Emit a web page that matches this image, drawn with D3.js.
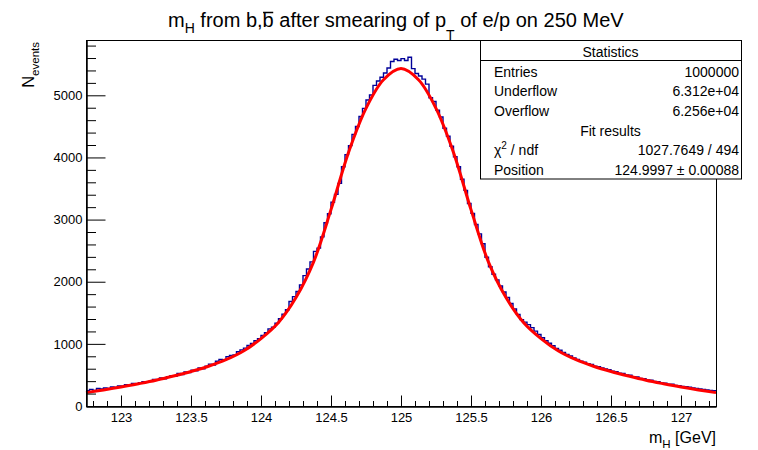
<!DOCTYPE html>
<html><head><meta charset="utf-8">
<script src="https://cdn.jsdelivr.net/npm/d3@7"></script>
<style>
body{margin:0;background:#fff}
svg{display:block;font-family:"Liberation Sans",Arial,Helvetica,sans-serif}
</style>
</head><body>
<svg id="c" width="758" height="450"></svg>
<script>
// ---------------- data ----------------
const xDomain = [122.75, 127.25];
const yMax = 5890;
const xTicks = [123, 123.5, 124, 124.5, 125, 125.5, 126, 126.5, 127];
const xTickLabels = ["123", "123.5", "124", "124.5", "125", "125.5", "126", "126.5", "127"];
const yTicks = [0, 1000, 2000, 3000, 4000, 5000];
const yTickLabels = ["0", "1000", "2000", "3000", "4000", "5000"];
const binStart = 122.75;
const binWidth = 0.025;
const counts = [
  245, 268, 252, 281, 276, 290, 284, 305, 298, 322,
  318, 341, 335, 362, 351, 375, 392, 386, 398, 427,
  421, 452, 438, 471, 488, 479, 522, 508, 549, 538,
  575, 566, 612, 598, 641, 672, 658, 719, 748, 741,
  795, 812, 823, 872, 904, 932, 975, 1008, 1049, 1082,
  1136, 1180, 1241, 1268, 1332, 1405, 1478, 1550, 1682, 1760,
  1842, 1948, 2098, 2205, 2320, 2488, 2540, 2721, 2948, 3095,
  3278, 3405, 3582, 3851, 4045, 4190, 4372, 4498, 4660, 4790,
  4925, 5005, 5160, 5230, 5290, 5360, 5440, 5545, 5580, 5560,
  5590, 5560, 5612, 5430, 5350, 5310, 5260, 5180, 4960, 4900,
  4760, 4650, 4470, 4340, 4180, 4010, 3850, 3650, 3470, 3260,
  3100, 2920, 2770, 2610, 2395, 2240, 2120, 2030, 1930, 1835,
  1745, 1650, 1560, 1475, 1390, 1350, 1310, 1262, 1205, 1150,
  1098, 1052, 1010, 972, 925, 898, 862, 829, 806, 772,
  751, 720, 706, 680, 668, 641, 632, 612, 595, 583,
  559, 552, 528, 522, 498, 494, 470, 466, 443, 440,
  418, 415, 395, 392, 372, 368, 352, 349, 331, 327,
  316, 309, 301, 290, 283, 276, 268, 258, 252, 247
];
const fitX = [
  122.75, 122.875, 123, 123.125, 123.25, 123.375, 123.5, 123.625, 123.75, 123.875,
  124, 124.125, 124.25, 124.375, 124.5, 124.625, 124.75, 124.875, 125,
  125.125, 125.25, 125.375, 125.5, 125.625, 125.75, 125.875, 126, 126.125,
  126.25, 126.375, 126.5, 126.625, 126.75, 126.875, 127, 127.125, 127.25
];
const fitY = [
  215, 258, 305, 358, 415, 482, 555, 640, 745, 885,
  1085, 1345, 1745, 2315, 3160, 4080, 4790, 5250, 5430,
  5250, 4790, 4080, 3160, 2315, 1745, 1345, 1085, 885,
  745, 640, 555, 482, 415, 358, 305, 258, 215
];
const statLabels = ["Entries", "Underflow", "Overflow"];
const statValues = ["1000000", "6.312e+04", "6.256e+04"];
const fitLabels = ["χ", "Position"];
const fitValues = ["1027.7649 / 494", "124.9997 ± 0.00088"];

// ---------------- layout ----------------
const svg = d3.select("#c");
const L = 86, R = 716, T = 40, B = 406;
const x = d3.scaleLinear().domain(xDomain).range([L, R]);
const y = d3.scaleLinear().domain([0, yMax]).range([B, T]);

svg.append("rect").attr("width", 758).attr("height", 450).attr("fill", "#fff");

// histogram (step line)
const edges = counts.map((c, i) => [binStart + i * binWidth, c]);
edges.push([binStart + counts.length * binWidth, counts[counts.length - 1]]);
svg.append("path")
  .attr("d", d3.line().x(d => x(d[0])).y(d => y(d[1])).curve(d3.curveStepAfter)(edges))
  .attr("fill", "none").attr("stroke", "#000099").attr("stroke-width", 1.4);

// fit curve
svg.append("path")
  .attr("d", d3.line().x((d, i) => x(fitX[i])).y(d => y(d)).curve(d3.curveCatmullRom.alpha(0.5))(fitY))
  .attr("fill", "none").attr("stroke", "#ff0000").attr("stroke-width", 3);

// frame
svg.append("rect").attr("x", L + 0.5).attr("y", T + 0.5).attr("width", R - L).attr("height", B - T)
  .attr("fill", "none").attr("stroke", "#000").attr("stroke-width", 1);

// x axis
const xMinor = d3.range(122.8, 127.25, 0.1).map(v => +v.toFixed(2)).filter(v => !xTicks.some(t => Math.abs(t - v) < 1e-6));
const gx = svg.append("g").attr("transform", `translate(0,${B + 0.5})`);
gx.call(d3.axisBottom(x).tickValues(xTicks).tickFormat((d, i) => xTickLabels[i]).tickSizeInner(-11).tickSizeOuter(0).tickPadding(6.5));
const gxm = svg.append("g").attr("transform", `translate(0,${B + 0.5})`);
gxm.call(d3.axisBottom(x).tickValues(xMinor).tickFormat("").tickSizeInner(-5.5).tickSizeOuter(0));
// y axis
const yMinor = d3.range(200, 5900, 200).filter(v => v % 1000 !== 0);
const gy = svg.append("g").attr("transform", `translate(${L + 0.5},0)`);
gy.call(d3.axisLeft(y).tickValues(yTicks).tickFormat((d, i) => yTickLabels[i]).tickSizeInner(-19).tickSizeOuter(0).tickPadding(4));
const gym = svg.append("g").attr("transform", `translate(${L + 0.5},0)`);
gym.call(d3.axisLeft(y).tickValues(yMinor).tickFormat("").tickSizeInner(-9.5).tickSizeOuter(0));
[gx, gxm, gy, gym].forEach(g => {
  g.selectAll("path.domain").attr("stroke", "#000");
  g.selectAll("line").attr("stroke", "#000");
  g.selectAll("text").attr("font-size", 13).attr("font-family", "Liberation Sans, Arial, sans-serif").attr("fill", "#000");
});

// title
const title = svg.append("text").attr("x", 168).attr("y", 26.5).attr("font-size", 20).attr("fill", "#000");
title.append("tspan").text("m");
title.append("tspan").attr("font-size", 14).attr("dy", 6.5).text("H");
title.append("tspan").attr("dy", -6.5).text(" from b,");
title.append("tspan").attr("class", "bbar").text("b");
title.append("tspan").text(" after smearing of p");
title.append("tspan").attr("font-size", 14).attr("dy", 13.3).text("T");
title.append("tspan").attr("dy", -13.3).text(" of e/p on 250 MeV");
// overline on b-bar
(function () {
  const node = title.node();
  const full = node.textContent;
  const idx = full.indexOf("b,b") + 2;
  const ext = node.getExtentOfChar(idx);
  svg.append("line").attr("x1", ext.x + 0.5).attr("x2", ext.x + ext.width - 0.5)
    .attr("y1", 12.5).attr("y2", 12.5).attr("stroke", "#000").attr("stroke-width", 1.5);
})();

// y label
const yl = svg.append("text").attr("transform", "translate(34,42) rotate(-90)")
  .attr("text-anchor", "end").attr("font-size", 16.5).attr("fill", "#000");
yl.append("tspan").text("N");
yl.append("tspan").attr("font-size", 11.5).attr("dy", 5).text("events");

// x label
const xl = svg.append("text").attr("x", 716).attr("y", 443).attr("text-anchor", "end")
  .attr("font-size", 16).attr("fill", "#000");
xl.append("tspan").text("m");
xl.append("tspan").attr("font-size", 11.5).attr("dy", 5).text("H");
xl.append("tspan").attr("dy", -5).text(" [GeV]");

// statistics box
const SL = 480, SR = 741, ST = 40, SB = 178.5;
const sb = svg.append("g");
sb.append("rect").attr("x", SL + 0.5).attr("y", ST + 0.5).attr("width", SR - SL).attr("height", SB - ST)
  .attr("fill", "#fff").attr("stroke", "#000").attr("stroke-width", 1);
sb.append("line").attr("x1", SL).attr("x2", SR + 1).attr("y1", 60.5).attr("y2", 60.5).attr("stroke", "#000");
const fs = 14;
sb.append("text").attr("x", (SL + SR) / 2).attr("y", 56.5).attr("text-anchor", "middle").attr("font-size", fs).text("Statistics");
const rowY = [76.5, 96, 116, 135.7, 155.4, 175];
statLabels.forEach((t, i) => {
  sb.append("text").attr("x", 494).attr("y", rowY[i]).attr("font-size", fs).text(t);
  sb.append("text").attr("x", 739).attr("y", rowY[i]).attr("text-anchor", "end").attr("font-size", fs).text(statValues[i]);
});
sb.append("text").attr("x", (SL + SR) / 2).attr("y", rowY[3]).attr("text-anchor", "middle").attr("font-size", fs).text("Fit results");
const chi = sb.append("text").attr("x", 494).attr("y", rowY[4]).attr("font-size", fs);
chi.append("tspan").text(fitLabels[0]);
chi.append("tspan").attr("font-size", 10).attr("dy", -6).text("2");
chi.append("tspan").attr("dy", 6).text(" / ndf");
sb.append("text").attr("x", 739).attr("y", rowY[4]).attr("text-anchor", "end").attr("font-size", fs).text(fitValues[0]);
sb.append("text").attr("x", 494).attr("y", rowY[5]).attr("font-size", fs).text(fitLabels[1]);
sb.append("text").attr("x", 739).attr("y", rowY[5]).attr("text-anchor", "end").attr("font-size", fs).text(fitValues[1]);
</script>
</body></html>
